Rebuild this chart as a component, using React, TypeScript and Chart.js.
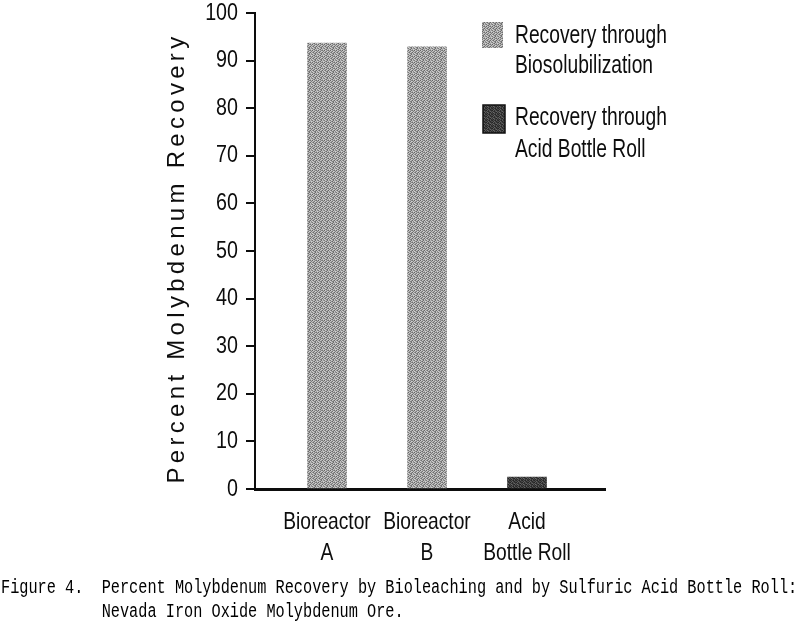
import React, { useEffect, useRef } from "react";
import { Chart, registerables } from "chart.js";

Chart.register(...registerables);

// ---- data ----
const categoryLines: string[][] = [
  ["Bioreactor", "A"],
  ["Bioreactor", "B"],
  ["Acid", "Bottle Roll"],
];
const bioValues: (number | null)[] = [93.7, 92.9, null];
const acidValues: (number | null)[] = [null, null, 2.5];
const seriesNames: string[][] = [
  ["Recovery through", "Biosolubilization"],
  ["Recovery through", "Acid Bottle Roll"],
];
const yTitle = "Percent Molybdenum Recovery";
const yMin = 0;
const yMax = 100;
const yStep = 10;
const captionLines = [
  "Figure 4.  Percent Molybdenum Recovery by Bioleaching and by Sulfuric Acid Bottle Roll:",
  "           Nevada Iron Oxide Molybdenum Ore.",
];

const SANS = "'Liberation Sans', Arial, Helvetica, sans-serif";
const INK = "#0d0d0d";
const SQUEEZE = 0.8;

function makePattern(matrix: number[][]): CanvasPattern | string {
  const c = document.createElement("canvas");
  const h = matrix.length;
  const w = matrix[0].length;
  c.width = w;
  c.height = h;
  const g = c.getContext("2d");
  if (!g) return "#999";
  for (let y = 0; y < h; y++) {
    for (let x = 0; x < w; x++) {
      const v = matrix[y][x];
      g.fillStyle = `rgb(${v},${v},${v})`;
      g.fillRect(x, y, 1, 1);
    }
  }
  const p = g.createPattern(c, "repeat");
  return p || "#999";
}

const grayMatrix = [
  [120, 200, 175, 110, 190, 150],
  [185, 140, 105, 195, 160, 210],
  [100, 205, 170, 135, 115, 180],
  [195, 155, 120, 210, 185, 125],
  [145, 110, 200, 160, 105, 200],
  [210, 175, 130, 115, 195, 140],
];
const darkMatrix = [
  [40, 80, 55, 35, 90, 50],
  [75, 45, 100, 60, 40, 70],
  [35, 95, 50, 85, 55, 45],
  [85, 55, 40, 70, 100, 60],
  [50, 105, 75, 45, 35, 90],
  [65, 40, 90, 55, 80, 45],
];

function squeezedText(
  ctx: CanvasRenderingContext2D,
  text: string,
  x: number,
  y: number,
  size: number,
  align: CanvasTextAlign,
  baseline: CanvasTextBaseline,
  sx: number
) {
  ctx.save();
  ctx.translate(x, y);
  ctx.scale(sx, 1);
  ctx.font = `${size}px ${SANS}`;
  ctx.textAlign = align;
  ctx.textBaseline = baseline;
  ctx.fillText(text, 0, 0);
  ctx.restore();
}

export default function App() {
  const canvasRef = useRef<HTMLCanvasElement | null>(null);

  useEffect(() => {
    document.body.style.margin = "0";
    const canvas = canvasRef.current;
    if (!canvas) return;
    const grayPat = makePattern(grayMatrix);
    const darkPat = makePattern(darkMatrix);

    const bioData = bioValues
      .map((v, i) => (v == null ? null : { x: i, y: v }))
      .filter((d) => d !== null) as { x: number; y: number }[];
    const acidData = acidValues
      .map((v, i) => (v == null ? null : { x: i, y: v }))
      .filter((d) => d !== null) as { x: number; y: number }[];

    const overlay = {
      id: "overlay",
      afterDraw(chart: any) {
        const ctx = chart.ctx as CanvasRenderingContext2D;
        const xs = chart.scales.x;
        const ys = chart.scales.y;
        ctx.save();
        ctx.fillStyle = INK;

        // y tick labels (condensed)
        ys.ticks.forEach((t: any) => {
          const py = ys.getPixelForValue(t.value);
          squeezedText(ctx, String(t.value), ys.right - 9 - 8, py, 24, "right", "middle", 0.82);
        });

        // x category labels (condensed, two lines)
        xs.ticks.forEach((t: any) => {
          const idx = Math.round(t.value);
          const lines = categoryLines[idx];
          if (!lines) return;
          const px = xs.getPixelForValue(t.value);
          lines.forEach((ln, k) => {
            squeezedText(ctx, ln, px, xs.top + 40 + k * 31, 24, "center", "alphabetic", SQUEEZE);
          });
        });

        // y-axis title
        ctx.save();
        ctx.font = `24px ${SANS}`;
        (ctx as any).letterSpacing = "4.3px";
        ctx.translate(184, 258);
        ctx.rotate(-Math.PI / 2);
        ctx.textAlign = "center";
        ctx.textBaseline = "alphabetic";
        ctx.fillText(yTitle, 0, 0);
        ctx.restore();

        // legend
        ctx.fillStyle = grayPat as any;
        ctx.fillRect(482, 22, 21, 26);
        ctx.fillStyle = darkPat as any;
        ctx.fillRect(483, 105, 22, 28);
        ctx.strokeStyle = "#111";
        ctx.lineWidth = 1.5;
        ctx.strokeRect(483, 105, 22, 28);
        ctx.fillStyle = INK;
        squeezedText(ctx, seriesNames[0][0], 515, 43, 25, "left", "alphabetic", 0.77);
        squeezedText(ctx, seriesNames[0][1], 515, 73, 25, "left", "alphabetic", 0.77);
        squeezedText(ctx, seriesNames[1][0], 515, 125, 25, "left", "alphabetic", 0.77);
        squeezedText(ctx, seriesNames[1][1], 515, 157, 25, "left", "alphabetic", 0.77);
        ctx.restore();
      },
    };

    const chart = new Chart(canvas, {
      type: "bar",
      data: {
        datasets: [
          {
            label: seriesNames[0].join(" "),
            data: bioData as any,
            backgroundColor: grayPat as any,
            borderWidth: 0,
            barThickness: 39,
            grouped: false,
          } as any,
          {
            label: seriesNames[1].join(" "),
            data: acidData as any,
            backgroundColor: darkPat as any,
            borderWidth: 0,
            barThickness: 39,
            grouped: false,
          } as any,
        ],
      },
      options: {
        responsive: false,
        animation: false,
        events: [],
        layout: { padding: { top: 13, right: 195, left: 0, bottom: 0 } },
        plugins: {
          legend: { display: false },
          tooltip: { enabled: false },
          title: { display: false },
        },
        scales: {
          x: {
            type: "linear",
            min: -0.72,
            max: 2.78,
            offset: false,
            bounds: "data",
            grid: { display: false, drawTicks: false, offset: false },
            border: { display: true, color: INK, width: 3 },
            afterBuildTicks: (axis: any) => {
              axis.ticks = categoryLines.map((_, i) => ({ value: i }));
            },
            afterFit: (scale: any) => {
              scale.height = 135;
            },
            ticks: { display: false, autoSkip: false },
          },
          y: {
            min: yMin,
            max: yMax,
            afterFit: (scale: any) => {
              scale.width = 255;
            },
            grid: {
              drawOnChartArea: false,
              drawTicks: true,
              tickLength: 9,
              color: INK,
              lineWidth: 2,
            },
            border: { display: true, color: INK, width: 2 },
            ticks: { display: false, stepSize: yStep },
            title: { display: false },
          },
        },
      } as any,
      plugins: [overlay],
    });

    return () => {
      chart.destroy();
    };
  }, []);

  return (
    <div style={{ position: "relative", width: 800, height: 624, background: "#fff", overflow: "hidden" }}>
      <canvas ref={canvasRef} width={800} height={624} style={{ display: "block", width: 800, height: 624 }} />
      <div
        style={{
          position: "absolute",
          left: 1,
          top: 576,
          fontFamily: "'Liberation Mono', 'DejaVu Sans Mono', monospace",
          fontSize: 20,
          lineHeight: "24px",
          color: "#000",
          whiteSpace: "pre",
          transform: "scaleX(0.7625)",
          transformOrigin: "0 0",
        }}
      >
        {captionLines.map((l, i) => (
          <div key={i}>{l}</div>
        ))}
      </div>
    </div>
  );
}
